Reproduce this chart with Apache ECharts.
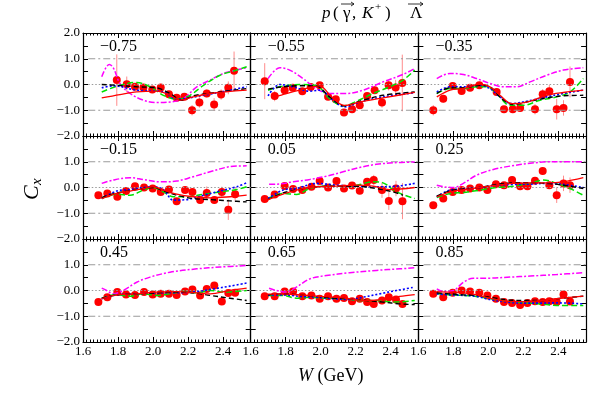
<!DOCTYPE html>
<html>
<head>
    <meta charset="UTF-8">
    <title>Cx</title>
    <script type="text/javascript" src="https://cdn.jsdelivr.net/npm/echarts@6/dist/echarts.min.js"></script>
    <style>
        html, body { margin: 0; padding: 0; background: #fff; }
        #main { width: 599px; height: 394px; }
    </style>
</head>
<body>
<div id="main"></div>
<script type="text/javascript">
    // cos(theta) of each panel
    var cosLabels = ['\u22120.75', '\u22120.55', '\u22120.35', '\u22120.15', '0.05', '0.25', '0.45', '0.65', '0.85'];
    var xTicks = [1.6, 1.8, 2.0, 2.2, 2.4];
    var yTicks = [-2, -1, 0, 1, 2];

    // data points: W, Cx, error
    var pointsW = [
        [1.793, 1.85, 1.897, 1.945, 1.996, 2.044, 2.091, 2.135, 2.179, 2.223, 2.265, 2.307, 2.349, 2.389, 2.43, 2.463],
        [1.68, 1.737, 1.794, 1.84, 1.895, 1.943, 1.994, 2.042, 2.086, 2.133, 2.179, 2.223, 2.265, 2.308, 2.35, 2.388, 2.428, 2.466],
        [1.685, 1.742, 1.796, 1.847, 1.895, 1.948, 2.047, 2.089, 2.139, 2.181, 2.266, 2.31, 2.348, 2.39, 2.429, 2.466],
        [1.688, 1.739, 1.796, 1.846, 1.897, 1.949, 1.998, 2.044, 2.091, 2.135, 2.183, 2.225, 2.269, 2.307, 2.35, 2.393, 2.43, 2.469],
        [1.68, 1.737, 1.794, 1.842, 1.895, 1.947, 1.994, 2.042, 2.09, 2.133, 2.179, 2.223, 2.265, 2.303, 2.35, 2.389, 2.43, 2.467],
        [1.685, 1.742, 1.796, 1.847, 1.895, 1.948, 1.994, 2.043, 2.089, 2.135, 2.181, 2.223, 2.266, 2.31, 2.348, 2.39, 2.429, 2.466],
        [1.688, 1.739, 1.796, 1.846, 1.897, 1.949, 1.998, 2.044, 2.091, 2.135, 2.183, 2.225, 2.269, 2.307, 2.35, 2.393, 2.43, 2.469],
        [1.68, 1.737, 1.794, 1.842, 1.895, 1.947, 1.994, 2.042, 2.09, 2.133, 2.179, 2.223, 2.265, 2.303, 2.35, 2.389, 2.43, 2.467],
        [1.685, 1.742, 1.796, 1.847, 1.895, 1.948, 1.994, 2.043, 2.089, 2.135, 2.181, 2.223, 2.266, 2.31, 2.348, 2.39, 2.429, 2.466]
    ];
    var pointsCx = [
        [0.17, 0.01, -0.09, -0.12, -0.19, -0.12, -0.38, -0.51, -0.48, -1.0, -0.70, -0.35, -0.78, -0.39, -0.13, 0.53],
        [0.13, -0.45, -0.22, -0.13, -0.26, -0.10, -0.03, -0.48, -0.57, -1.09, -0.96, -0.81, -0.45, -0.22, -0.70, -0.03, -0.12, 0.06],
        [-1.0, -0.55, -0.06, -0.25, -0.13, -0.03, -0.29, -0.96, -0.96, -0.91, -0.96, -0.38, -0.26, -0.96, -0.91, 0.10],
        [-0.30, -0.23, -0.36, -0.14, 0.05, 0.0, -0.04, -0.17, -0.08, -0.53, -0.10, -0.17, -0.49, -0.21, -0.49, -0.17, -0.86, -0.26],
        [-0.45, -0.27, 0.06, -0.06, -0.10, 0.03, 0.25, 0.0, 0.25, -0.04, 0.08, -0.13, 0.22, 0.29, -0.10, -0.52, -0.04, -0.53],
        [-0.69, -0.43, -0.17, -0.10, -0.04, 0.0, -0.10, 0.13, 0.09, 0.29, 0.05, 0.05, 0.26, 0.64, 0.09, -0.30, 0.16, 0.09],
        [-0.45, -0.26, -0.06, -0.16, -0.17, -0.06, -0.16, -0.13, -0.13, -0.17, -0.04, 0.04, -0.19, 0.06, 0.19, -0.43, -0.10, -0.09],
        [-0.22, -0.22, -0.04, -0.04, -0.22, -0.19, -0.32, -0.22, -0.32, -0.29, -0.42, -0.32, -0.45, -0.52, -0.39, -0.26, -0.35, -0.52],
        [-0.13, -0.26, -0.09, 0.0, -0.04, -0.09, -0.19, -0.32, -0.45, -0.49, -0.56, -0.49, -0.42, -0.45, -0.42, -0.45, -0.16, -0.43]
    ];
    var pointsErr = [
        [1.0, 0.3, 0.1, 0.1, 0.08, 0.1, 0.1, 0.08, 0.08, 0.2, 0.2, 0.15, 0.25, 0.2, 0.25, 0.75],
        [0.7, 0.2, 0.15, 0.1, 0.1, 0.08, 0.08, 0.1, 0.1, 0.1, 0.1, 0.12, 0.15, 0.15, 0.2, 0.2, 0.3, 1.1],
        [0.2, 0.15, 0.1, 0.1, 0.08, 0.08, 0.1, 0.1, 0.1, 0.12, 0.2, 0.2, 0.25, 0.4, 0.3, 0.6],
        [0.1, 0.1, 0.1, 0.1, 0.1, 0.08, 0.08, 0.08, 0.08, 0.1, 0.1, 0.1, 0.12, 0.25, 0.15, 0.2, 0.4, 0.25],
        [0.08, 0.08, 0.08, 0.08, 0.08, 0.08, 0.08, 0.08, 0.08, 0.08, 0.08, 0.1, 0.1, 0.2, 0.3, 0.35, 0.3, 0.7],
        [0.1, 0.1, 0.08, 0.08, 0.08, 0.08, 0.08, 0.08, 0.08, 0.08, 0.08, 0.08, 0.1, 0.15, 0.15, 0.3, 0.3, 0.3],
        [0.08, 0.08, 0.08, 0.08, 0.08, 0.08, 0.08, 0.08, 0.08, 0.08, 0.08, 0.08, 0.08, 0.1, 0.1, 0.12, 0.12, 0.12],
        [0.08, 0.08, 0.08, 0.08, 0.08, 0.08, 0.08, 0.08, 0.08, 0.08, 0.08, 0.08, 0.1, 0.1, 0.15, 0.1, 0.1, 0.12],
        [0.08, 0.08, 0.08, 0.08, 0.08, 0.08, 0.08, 0.08, 0.08, 0.08, 0.08, 0.08, 0.08, 0.08, 0.08, 0.1, 0.12, 0.1]
    ];

    // model curves, [W, Cx]
    var redCurves = [
        [[1.707,-0.52],[1.811,-0.39],[1.907,-0.29],[2.021,-0.26],[2.097,-0.42],[2.154,-0.61],[2.230,-0.48],[2.326,-0.35],[2.535,-0.22]],
        [[1.737,-0.48],[1.804,-0.35],[1.880,-0.22],[1.994,-0.05],[2.061,-0.48],[2.137,-0.81],[2.223,-0.68],[2.356,-0.52],[2.537,-0.31]],
        [[1.705,-0.48],[1.781,-0.22],[1.857,-0.16],[1.952,0.01],[2.009,-0.09],[2.066,-0.42],[2.133,-0.74],[2.219,-0.68],[2.333,-0.42],[2.428,-0.31],[2.542,-0.22]],
        [[1.707,-0.43],[1.792,-0.23],[1.869,-0.14],[1.945,-0.04],[2.002,0.03],[2.059,-0.10],[2.135,-0.26],[2.230,-0.36],[2.326,-0.40],[2.440,-0.36],[2.535,-0.30]],
        [[1.699,-0.47],[1.785,-0.26],[1.861,-0.10],[1.975,0.03],[2.090,0.05],[2.204,0.09],[2.299,0.05],[2.394,-0.08],[2.537,0.0]],
        [[1.705,-0.36],[1.781,-0.17],[1.857,-0.08],[1.952,0.0],[2.047,0.09],[2.142,0.16],[2.238,0.18],[2.333,0.18],[2.428,0.22],[2.542,0.38]],
        [[1.707,-0.32],[1.792,-0.17],[1.907,-0.13],[2.021,-0.06],[2.135,-0.04],[2.250,-0.09],[2.326,-0.13],[2.440,0.0],[2.535,0.09]],
        [[1.699,-0.14],[1.785,-0.13],[1.880,-0.17],[1.975,-0.22],[2.070,-0.26],[2.166,-0.32],[2.261,-0.39],[2.356,-0.35],[2.451,-0.23],[2.537,-0.16]],
        [[1.705,-0.04],[1.781,-0.06],[1.857,-0.09],[1.933,-0.17],[2.009,-0.30],[2.104,-0.42],[2.200,-0.43],[2.295,-0.39],[2.390,-0.32],[2.542,-0.22]]
    ];
    var greenCurves = [
        [[1.707,-0.29],[1.811,-0.03],[1.907,0.08],[1.983,-0.09],[2.059,-0.42],[2.135,-0.57],[2.211,-0.42],[2.288,-0.03],[2.383,0.36],[2.478,0.56],[2.535,0.69]],
        [[1.699,-0.22],[1.785,-0.06],[1.880,0.0],[1.975,-0.05],[2.051,-0.55],[2.128,-0.83],[2.204,-0.65],[2.299,-0.35],[2.394,-0.09],[2.470,0.17],[2.537,0.56]],
        [[1.705,-0.35],[1.781,-0.16],[1.857,-0.16],[1.933,-0.09],[1.990,-0.09],[2.047,-0.35],[2.123,-0.81],[2.200,-0.81],[2.295,-0.61],[2.390,-0.48],[2.466,-0.29],[2.542,0.23]],
        [[1.707,-0.43],[1.792,-0.26],[1.869,-0.30],[1.945,-0.10],[2.002,0.0],[2.059,-0.17],[2.116,-0.36],[2.192,-0.36],[2.288,-0.26],[2.383,-0.17],[2.478,-0.08],[2.535,0.03]],
        [[1.699,-0.43],[1.785,-0.23],[1.861,-0.27],[1.937,-0.04],[2.013,0.05],[2.109,0.05],[2.204,0.09],[2.299,0.22],[2.356,0.18],[2.432,-0.17],[2.537,-0.43]],
        [[1.705,-0.39],[1.781,-0.23],[1.857,-0.19],[1.952,-0.10],[2.047,0.0],[2.142,0.05],[2.238,0.16],[2.314,0.29],[2.390,0.16],[2.466,-0.04],[2.542,-0.30]],
        [[1.707,-0.30],[1.792,-0.16],[1.869,-0.22],[1.945,-0.13],[2.021,-0.19],[2.097,-0.13],[2.173,-0.04],[2.250,-0.09],[2.326,0.0],[2.402,-0.06],[2.535,0.0]],
        [[1.699,-0.19],[1.785,-0.19],[1.861,-0.30],[1.937,-0.26],[2.032,-0.30],[2.128,-0.32],[2.223,-0.39],[2.318,-0.39],[2.413,-0.45],[2.537,-0.39]],
        [[1.705,-0.13],[1.781,-0.17],[1.857,-0.19],[1.933,-0.23],[2.009,-0.32],[2.104,-0.42],[2.200,-0.48],[2.295,-0.52],[2.390,-0.58],[2.542,-0.58]]
    ];
    var blueCurves = [
        [[1.707,-0.13],[1.773,-0.05],[1.907,-0.22],[2.059,-0.29],[2.135,-0.57],[2.288,-0.42],[2.535,-0.09]],
        [[1.699,-0.44],[1.766,0.0],[1.842,-0.09],[1.937,-0.26],[1.994,-0.22],[2.070,-0.61],[2.137,-0.87],[2.223,-0.68],[2.356,-0.48],[2.537,-0.32]],
        [[1.705,-0.29],[1.781,-0.09],[1.857,-0.09],[1.952,-0.03],[2.009,-0.16],[2.066,-0.48],[2.133,-0.74],[2.219,-0.65],[2.333,-0.48],[2.428,-0.35],[2.542,-0.22]],
        [[1.707,-0.43],[1.792,-0.14],[1.869,-0.08],[1.945,0.0],[2.002,0.03],[2.059,-0.08],[2.116,-0.49],[2.192,-0.47],[2.288,-0.30],[2.383,-0.14],[2.478,0.03],[2.535,0.18]],
        [[1.699,-0.43],[1.785,-0.10],[1.861,-0.04],[1.975,0.16],[2.090,0.09],[2.204,0.05],[2.318,0.03],[2.432,0.05],[2.537,0.16]],
        [[1.705,-0.36],[1.781,-0.10],[1.857,-0.06],[1.952,0.0],[2.047,0.09],[2.142,0.12],[2.238,0.13],[2.333,0.16],[2.428,0.12],[2.542,0.0]],
        [[1.707,-0.32],[1.792,-0.17],[1.907,-0.13],[2.021,-0.09],[2.135,-0.09],[2.250,-0.04],[2.345,0.06],[2.440,0.17],[2.535,0.29]],
        [[1.699,-0.17],[1.785,-0.17],[1.880,-0.23],[1.975,-0.26],[2.070,-0.32],[2.166,-0.35],[2.242,-0.26],[2.337,-0.13],[2.432,0.0],[2.537,0.13]],
        [[1.705,-0.13],[1.781,-0.17],[1.857,-0.19],[1.933,-0.23],[2.009,-0.35],[2.104,-0.45],[2.200,-0.49],[2.295,-0.49],[2.390,-0.48],[2.542,-0.52]]
    ];
    var blackCurves = [
        [[1.707,0.0],[1.792,-0.03],[1.907,-0.09],[2.021,-0.13],[2.097,-0.35],[2.164,-0.61],[2.230,-0.44],[2.383,-0.29],[2.535,-0.16]],
        [[1.699,-0.18],[1.785,-0.09],[1.880,-0.05],[1.975,-0.06],[2.051,-0.48],[2.137,-0.83],[2.223,-0.65],[2.356,-0.42],[2.537,-0.29]],
        [[1.705,-0.35],[1.781,-0.13],[1.857,-0.13],[1.952,-0.03],[2.009,-0.09],[2.076,-0.55],[2.142,-0.78],[2.238,-0.65],[2.333,-0.52],[2.428,-0.44],[2.542,-0.42]],
        [[1.707,-0.39],[1.792,-0.21],[1.869,-0.13],[1.945,-0.04],[2.002,0.0],[2.059,-0.13],[2.135,-0.30],[2.230,-0.43],[2.326,-0.47],[2.440,-0.52],[2.535,-0.56]],
        [[1.699,-0.47],[1.785,-0.21],[1.861,-0.10],[1.975,0.03],[2.090,0.05],[2.204,0.05],[2.318,-0.04],[2.413,-0.17],[2.470,-0.30]],
        [[1.705,-0.34],[1.781,-0.13],[1.857,-0.06],[1.952,0.0],[2.047,0.12],[2.142,0.18],[2.238,0.19],[2.333,0.16],[2.428,0.09],[2.542,-0.04]],
        [[1.707,-0.30],[1.792,-0.17],[1.907,-0.13],[2.021,-0.09],[2.135,-0.06],[2.230,-0.09],[2.326,-0.19],[2.440,-0.30],[2.535,-0.39]],
        [[1.699,-0.17],[1.785,-0.13],[1.880,-0.17],[1.975,-0.23],[2.070,-0.29],[2.166,-0.32],[2.261,-0.39],[2.356,-0.45],[2.451,-0.52],[2.537,-0.55]],
        [[1.705,-0.09],[1.781,-0.13],[1.857,-0.17],[1.933,-0.19],[2.009,-0.26],[2.104,-0.36],[2.200,-0.39],[2.295,-0.39],[2.390,-0.32],[2.542,-0.22]]
    ];
    var magentaCurves = [
        [[1.707,0.30],[1.750,0.78],[1.773,0.65],[1.811,0.04],[1.869,-0.35],[1.945,-0.61],[2.021,-0.70],[2.097,-0.68],[2.173,-0.55],[2.250,-0.09],[2.326,0.17],[2.402,0.43],[2.478,0.56],[2.535,0.66]],
        [[1.699,0.23],[1.766,0.65],[1.823,0.56],[1.899,0.23],[1.975,-0.16],[2.051,-0.35],[2.147,-0.35],[2.242,-0.22],[2.356,0.10],[2.470,0.39],[2.537,0.62]],
        [[1.705,0.23],[1.781,0.43],[1.857,0.39],[1.933,0.23],[2.009,0.04],[2.085,-0.09],[2.161,-0.09],[2.238,0.10],[2.333,0.36],[2.428,0.56],[2.542,0.65]],
        [[1.707,0.16],[1.773,0.29],[1.869,0.38],[1.945,0.31],[2.040,0.22],[2.135,0.25],[2.230,0.42],[2.326,0.61],[2.440,0.81],[2.535,0.84]],
        [[1.705,0.13],[1.747,0.13],[1.842,0.22],[1.937,0.31],[2.032,0.44],[2.128,0.61],[2.223,0.78],[2.318,0.90],[2.413,0.96],[2.537,0.99]],
        [[1.705,0.09],[1.743,0.03],[1.800,0.0],[1.857,0.16],[1.933,0.48],[2.028,0.70],[2.123,0.83],[2.238,0.94],[2.352,1.0],[2.542,1.0]],
        [[1.707,0.09],[1.735,0.0],[1.773,-0.13],[1.830,0.0],[1.907,0.32],[1.983,0.52],[2.097,0.71],[2.250,0.84],[2.383,0.91],[2.535,0.97]],
        [[1.705,0.09],[1.747,0.0],[1.804,-0.06],[1.861,0.13],[1.937,0.45],[2.032,0.58],[2.166,0.69],[2.318,0.78],[2.451,0.84],[2.537,0.88]],
        [[1.705,0.06],[1.743,-0.04],[1.800,0.0],[1.857,0.32],[1.914,0.48],[2.009,0.48],[2.123,0.52],[2.238,0.56],[2.390,0.62],[2.542,0.69]]
    ];

    var FONT = 'Liberation Serif';
    var LEFT = 83, TOP = 33, PW = 167.7, PH = 103;
    var XMIN = 1.6, XMAX = 2.558;

    function fmt(v) {
        var s = v.toFixed(1);
        if (s === '-0.0') s = '0.0';
        return s.replace('-', '\u2212');
    }

    var myChart = echarts.init(document.getElementById('main'));
    var grids = [], xAxes = [], yAxes = [], series = [], graphics = [];

    for (var i = 0; i < 9; i++) {
        var row = Math.floor(i / 3), col = i % 3;
        grids.push({left: LEFT + col * PW, top: TOP + row * PH, width: PW, height: PH});

        var lineStyle = {color: '#000', width: 1.2};
        // bottom and top x axis
        xAxes.push({
            gridIndex: i, type: 'value', position: 'bottom', min: XMIN, max: XMAX, interval: 0.2,
            axisLine: {onZero: false, lineStyle: lineStyle},
            axisTick: {inside: true, length: 5, lineStyle: {color: '#000'}},
            minorTick: {show: true, splitNumber: 10, length: 2.5, lineStyle: {color: '#000'}},
            splitLine: {show: false},
            axisLabel: {
                show: row === 2, showMaxLabel: false, margin: 3,
                fontFamily: FONT, fontSize: 13, color: '#000',
                formatter: function (v) { return xTicks.indexOf(Math.round(v * 10) / 10) >= 0 ? v.toFixed(1) : ''; }
            }
        });
        xAxes.push({
            gridIndex: i, type: 'value', position: 'top', min: XMIN, max: XMAX, interval: 0.2,
            axisLine: {onZero: false, lineStyle: lineStyle},
            axisTick: {inside: true, length: 5, lineStyle: {color: '#000'}},
            minorTick: {show: true, splitNumber: 10, length: 2.5, lineStyle: {color: '#000'}},
            splitLine: {show: false}, axisLabel: {show: false}
        });
        // left and right y axis
        yAxes.push({
            gridIndex: i, type: 'value', position: 'left', min: -2, max: 2, interval: 1,
            axisLine: {onZero: false, lineStyle: lineStyle},
            axisTick: {inside: true, length: 5, lineStyle: {color: '#000'}},
            minorTick: {show: true, splitNumber: 2, length: 5, lineStyle: {color: '#000'}},
            splitLine: {show: false},
            axisLabel: {
                show: col === 0, showMaxLabel: row === 0, margin: 3,
                fontFamily: FONT, fontSize: 13, color: '#000',
                formatter: function (v) { return yTicks.indexOf(v) >= 0 ? fmt(v) : ''; }
            }
        });
        yAxes.push({
            gridIndex: i, type: 'value', position: 'right', min: -2, max: 2, interval: 1,
            axisLine: {onZero: false, lineStyle: lineStyle},
            axisTick: {inside: true, length: 5, lineStyle: {color: '#000'}},
            minorTick: {show: true, splitNumber: 2, length: 5, lineStyle: {color: '#000'}},
            splitLine: {show: false}, axisLabel: {show: false}
        });

        var xi = 2 * i, yi = 2 * i;
        // reference lines
        [[1, [7, 3, 2, 3]], [-1, [7, 3, 2, 3]], [0, [1.5, 2]]].forEach(function (r) {
            series.push({
                type: 'line', xAxisIndex: xi, yAxisIndex: yi, symbol: 'none', silent: true,
                data: [[XMIN + 0.03, r[0]], [XMAX, r[0]]],
                lineStyle: {color: '#9a9a9a', width: 1, type: r[1]}
            });
        });

        // model curves
        var curves = [
            [magentaCurves[i], '#ff00ff', [6, 2, 2, 2], 1.5],
            [greenCurves[i], '#00e000', [6, 3], 1.5],
            [blueCurves[i], '#0000ff', [2, 2], 1.6],
            [blackCurves[i], '#000000', [5, 3], 1.4],
            [redCurves[i], '#ff0000', 'solid', 1.3]
        ];
        curves.forEach(function (c) {
            series.push({
                type: 'line', xAxisIndex: xi, yAxisIndex: yi, symbol: 'none', smooth: 0.35,
                silent: true, data: c[0],
                lineStyle: {color: c[1], type: c[2], width: c[3]}
            });
        });

        // error bars
        var errData = [], ptData = [];
        for (var k = 0; k < pointsW[i].length; k++) {
            errData.push([pointsW[i][k], pointsCx[i][k] - pointsErr[i][k], pointsCx[i][k] + pointsErr[i][k]]);
            ptData.push([pointsW[i][k], pointsCx[i][k]]);
        }
        series.push({
            type: 'custom', xAxisIndex: xi, yAxisIndex: yi, silent: true,
            data: errData, encode: {x: 0, y: [1, 2]},
            renderItem: function (params, api) {
                var a = api.coord([api.value(0), api.value(1)]);
                var b = api.coord([api.value(0), api.value(2)]);
                return {
                    type: 'line',
                    shape: {x1: a[0], y1: a[1], x2: b[0], y2: b[1]},
                    style: {stroke: '#ff8c8c', lineWidth: 1}
                };
            }
        });
        series.push({
            type: 'scatter', xAxisIndex: xi, yAxisIndex: yi, silent: true,
            symbol: 'circle', symbolSize: 8, data: ptData,
            itemStyle: {color: '#ff0000', opacity: 1}
        });

        // cos(theta) label
        graphics.push({
            type: 'text', left: LEFT + col * PW + 17, top: TOP + row * PH + 6,
            style: {text: cosLabels[i], font: '16px "' + FONT + '"', fill: '#000'}
        });
    }

    // title, p (gamma, K+) Lambda with arrows
    var tf = '17px "' + FONT + '"', ti = 'italic 17px "' + FONT + '"';
    [['p', 322, ti], ['(', 333, tf], ['\u03b3', 343, tf], [',', 352, tf], ['K', 362, ti],
     ['+', 375, '11px "' + FONT + '"', -3], [')', 385, tf], ['\u039b', 410, tf]].forEach(function (t) {
        graphics.push({type: 'text', x: t[1], y: 5 + (t[3] || 0), style: {text: t[0], font: t[2], fill: '#000'}});
    });
    [[341, 354], [408, 423]].forEach(function (a) {
        graphics.push({type: 'line', shape: {x1: a[0], y1: 4, x2: a[1], y2: 4}, style: {stroke: '#000', lineWidth: 0.8}});
        graphics.push({type: 'polyline', shape: {points: [[a[1] - 3, 2], [a[1], 4], [a[1] - 3, 6]]}, style: {stroke: '#000', fill: null, lineWidth: 0.8}});
    });

    // y title C_x
    graphics.push({
        type: 'group', x: 33, y: 190, rotation: Math.PI / 2,
        children: [
            {type: 'text', x: -10, y: -12, style: {text: 'C', font: 'italic 22px "' + FONT + '"', fill: '#000'}},
            {type: 'text', x: 5, y: -3, style: {text: 'x', font: 'italic 15px "' + FONT + '"', fill: '#000'}}
        ]
    });

    // x title
    graphics.push({
        type: 'text', left: 298, top: 367,
        style: {
            text: '{i|W} (GeV)', font: '18px "' + FONT + '"', fill: '#000',
            rich: {i: {fontStyle: 'italic', fontFamily: FONT, fontSize: 18}}
        }
    });

    var option = {
        backgroundColor: '#fff',
        animation: false,
        grid: grids,
        xAxis: xAxes,
        yAxis: yAxes,
        series: series,
        graphic: graphics
    };
    myChart.setOption(option);
</script>
</body>
</html>
